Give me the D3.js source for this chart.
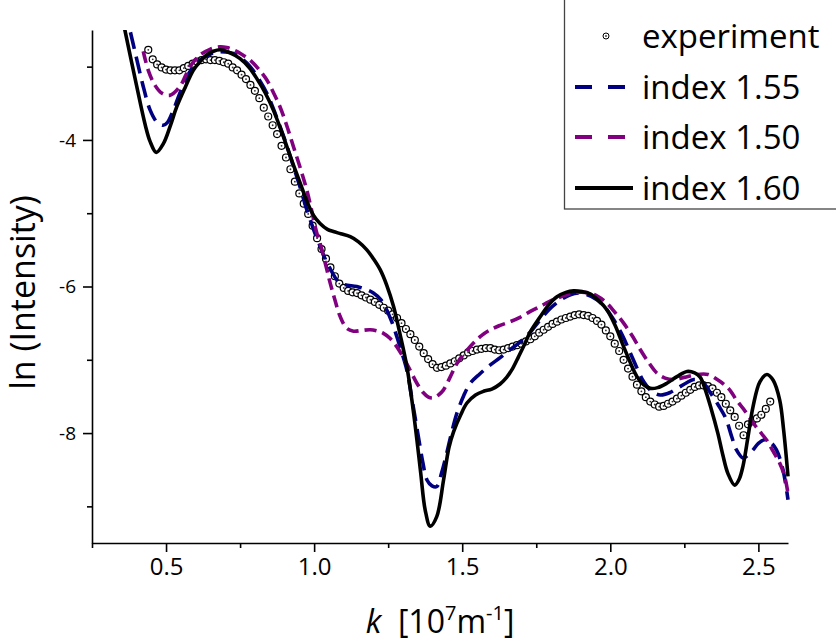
<!DOCTYPE html>
<html>
<head>
<meta charset="utf-8">
<script src="https://cdn.jsdelivr.net/npm/d3@7"></script>
<style>
  body { margin: 0; background: #fff; }
  svg { display: block; font-family: "Open Sans", sans-serif; }
</style>
</head>
<body>
<div id="chart"></div>
<script>
// k [10^7 m^-1], ln(Intensity)
const experiment = [
  [0.440, -2.77], [0.455, -2.90], [0.470, -2.97], [0.485, -3.01], [0.500, -3.04],
  [0.515, -3.05], [0.530, -3.05], [0.545, -3.05], [0.560, -3.02], [0.575, -2.99],
  [0.590, -2.96], [0.605, -2.93], [0.620, -2.91], [0.635, -2.90], [0.650, -2.91],
  [0.665, -2.91], [0.680, -2.92], [0.695, -2.94], [0.710, -2.96], [0.725, -3.01],
  [0.740, -3.05], [0.755, -3.11], [0.770, -3.17], [0.785, -3.25], [0.800, -3.33],
  [0.815, -3.43], [0.830, -3.56], [0.845, -3.68], [0.860, -3.80], [0.875, -3.92],
  [0.890, -4.08], [0.905, -4.24], [0.920, -4.40], [0.935, -4.57], [0.950, -4.73],
  [0.965, -4.87], [0.980, -5.01], [0.995, -5.17], [1.010, -5.34], [1.025, -5.49],
  [1.040, -5.62], [1.055, -5.74], [1.070, -5.86], [1.085, -5.96], [1.100, -6.02],
  [1.115, -6.06], [1.130, -6.08], [1.145, -6.09], [1.160, -6.12], [1.175, -6.15],
  [1.190, -6.18], [1.205, -6.21], [1.220, -6.25], [1.235, -6.29], [1.250, -6.33],
  [1.265, -6.38], [1.280, -6.43], [1.295, -6.50], [1.310, -6.58], [1.325, -6.65],
  [1.340, -6.73], [1.355, -6.82], [1.370, -6.91], [1.385, -6.99], [1.400, -7.06],
  [1.415, -7.11], [1.430, -7.10], [1.445, -7.08], [1.460, -7.05], [1.475, -7.02],
  [1.490, -6.98], [1.505, -6.94], [1.520, -6.90], [1.535, -6.88], [1.550, -6.86],
  [1.565, -6.85], [1.580, -6.84], [1.595, -6.84], [1.610, -6.86], [1.625, -6.87],
  [1.640, -6.86], [1.655, -6.84], [1.670, -6.82], [1.685, -6.80], [1.700, -6.78],
  [1.715, -6.75], [1.730, -6.72], [1.745, -6.68], [1.760, -6.63], [1.775, -6.59],
  [1.790, -6.55], [1.805, -6.51], [1.820, -6.48], [1.835, -6.45], [1.850, -6.43],
  [1.865, -6.41], [1.880, -6.39], [1.895, -6.38], [1.910, -6.39], [1.925, -6.40],
  [1.940, -6.43], [1.955, -6.47], [1.970, -6.52], [1.985, -6.60], [2.000, -6.68],
  [2.015, -6.78], [2.030, -6.88], [2.045, -7.00], [2.060, -7.12], [2.075, -7.23],
  [2.090, -7.34], [2.105, -7.43], [2.120, -7.51], [2.135, -7.57], [2.150, -7.61],
  [2.165, -7.64], [2.180, -7.63], [2.195, -7.60], [2.210, -7.57], [2.225, -7.53],
  [2.240, -7.49], [2.255, -7.45], [2.270, -7.41], [2.285, -7.37], [2.300, -7.35],
  [2.315, -7.35], [2.330, -7.36], [2.345, -7.39], [2.360, -7.45], [2.375, -7.51],
  [2.390, -7.60], [2.405, -7.69], [2.420, -7.78], [2.435, -7.90], [2.450, -8.03],
  [2.465, -7.88], [2.480, -7.84], [2.495, -7.80], [2.510, -7.75], [2.525, -7.67],
  [2.540, -7.57]
];

const index155 = [
  [0.360, -2.20], [0.378, -2.50], [0.400, -2.88], [0.423, -3.27], [0.446, -3.59],
  [0.470, -3.76], [0.490, -3.80], [0.505, -3.76], [0.525, -3.59], [0.545, -3.38],
  [0.570, -3.14], [0.595, -2.99], [0.615, -2.91], [0.645, -2.84], [0.671, -2.80],
  [0.700, -2.80], [0.727, -2.82], [0.755, -2.89], [0.784, -3.00], [0.812, -3.16],
  [0.840, -3.36], [0.862, -3.57], [0.885, -3.82], [0.908, -4.08], [0.930, -4.36],
  [0.953, -4.65], [0.975, -4.95], [0.998, -5.22], [1.020, -5.45], [1.040, -5.65],
  [1.060, -5.80], [1.077, -5.91], [1.100, -5.97], [1.144, -6.00], [1.175, -6.04],
  [1.200, -6.09], [1.225, -6.18], [1.245, -6.32], [1.262, -6.48], [1.279, -6.68],
  [1.296, -6.90], [1.313, -7.14], [1.333, -7.60], [1.352, -8.05], [1.367, -8.40],
  [1.381, -8.64], [1.398, -8.72], [1.414, -8.73], [1.430, -8.55], [1.448, -8.27],
  [1.465, -7.98], [1.482, -7.73], [1.505, -7.49], [1.527, -7.32], [1.560, -7.19],
  [1.595, -7.07], [1.628, -6.97], [1.662, -6.86], [1.695, -6.76], [1.730, -6.62],
  [1.764, -6.45], [1.792, -6.32], [1.820, -6.22], [1.850, -6.14], [1.887, -6.09],
  [1.920, -6.11], [1.955, -6.18], [1.985, -6.30], [2.011, -6.45], [2.040, -6.66],
  [2.068, -6.91], [2.092, -7.13], [2.113, -7.30], [2.140, -7.43], [2.169, -7.48],
  [2.200, -7.45], [2.226, -7.39], [2.255, -7.32], [2.282, -7.27], [2.310, -7.30],
  [2.338, -7.45], [2.365, -7.62], [2.390, -7.80], [2.410, -8.05], [2.426, -8.23],
  [2.448, -8.34], [2.465, -8.30], [2.482, -8.23], [2.500, -8.14], [2.522, -8.09],
  [2.542, -8.13], [2.561, -8.23], [2.583, -8.50], [2.600, -8.91]
];

const index150 = [
  [0.423, -2.79], [0.440, -3.05], [0.462, -3.25], [0.485, -3.36], [0.514, -3.39],
  [0.547, -3.27], [0.565, -3.13], [0.581, -3.00], [0.600, -2.90], [0.615, -2.84],
  [0.650, -2.76], [0.682, -2.73], [0.705, -2.74], [0.727, -2.77], [0.755, -2.83],
  [0.784, -2.91], [0.812, -3.03], [0.840, -3.18], [0.862, -3.35], [0.885, -3.55],
  [0.908, -3.81], [0.930, -4.09], [0.953, -4.38], [0.975, -4.68], [0.992, -4.97],
  [1.009, -5.27], [1.020, -5.41], [1.040, -5.72], [1.054, -5.95], [1.070, -6.18],
  [1.088, -6.41], [1.110, -6.57], [1.133, -6.61], [1.160, -6.60], [1.189, -6.59],
  [1.215, -6.61], [1.234, -6.64], [1.257, -6.71], [1.279, -6.82], [1.300, -6.96],
  [1.324, -7.14], [1.347, -7.32], [1.369, -7.45], [1.386, -7.51], [1.403, -7.52],
  [1.420, -7.48], [1.437, -7.41], [1.460, -7.23], [1.482, -7.05], [1.510, -6.90],
  [1.538, -6.77], [1.565, -6.67], [1.595, -6.59], [1.628, -6.53], [1.662, -6.48],
  [1.695, -6.42], [1.730, -6.34], [1.764, -6.27], [1.792, -6.21], [1.820, -6.16],
  [1.855, -6.11], [1.887, -6.08], [1.932, -6.09], [1.960, -6.14], [1.989, -6.23],
  [2.015, -6.35], [2.045, -6.50], [2.075, -6.68], [2.101, -6.86], [2.130, -7.04],
  [2.157, -7.18], [2.185, -7.25], [2.214, -7.27], [2.250, -7.24], [2.293, -7.20],
  [2.330, -7.20], [2.361, -7.27], [2.385, -7.34], [2.405, -7.42], [2.426, -7.55],
  [2.455, -7.70], [2.482, -7.86], [2.505, -7.98], [2.527, -8.09], [2.550, -8.25],
  [2.572, -8.41], [2.588, -8.58], [2.600, -8.82]
];

const index160 = [
  [0.350, -2.30], [0.361, -2.50], [0.400, -3.25], [0.430, -3.80], [0.446, -4.02],
  [0.467, -4.17], [0.491, -4.05], [0.515, -3.80], [0.536, -3.55], [0.565, -3.28],
  [0.592, -3.05], [0.615, -2.93], [0.637, -2.84], [0.660, -2.79], [0.682, -2.77],
  [0.710, -2.80], [0.750, -2.89], [0.780, -3.01], [0.806, -3.16], [0.835, -3.36],
  [0.862, -3.59], [0.885, -3.83], [0.908, -4.09], [0.930, -4.34], [0.953, -4.59],
  [0.975, -4.83], [0.998, -5.03], [1.020, -5.14], [1.045, -5.22], [1.065, -5.25],
  [1.090, -5.28], [1.122, -5.32], [1.150, -5.39], [1.178, -5.50], [1.200, -5.62],
  [1.223, -5.77], [1.245, -5.98], [1.268, -6.27], [1.290, -6.65], [1.313, -7.09],
  [1.330, -7.55], [1.347, -8.09], [1.360, -8.55], [1.375, -9.05], [1.392, -9.27],
  [1.414, -9.14], [1.437, -8.64], [1.455, -8.20], [1.471, -7.98], [1.495, -7.75],
  [1.516, -7.59], [1.545, -7.48], [1.572, -7.43], [1.600, -7.40], [1.628, -7.33],
  [1.650, -7.24], [1.670, -7.12], [1.690, -6.96], [1.707, -6.82], [1.730, -6.62],
  [1.764, -6.41], [1.790, -6.26], [1.820, -6.14], [1.850, -6.08], [1.876, -6.06],
  [1.905, -6.07], [1.932, -6.10], [1.960, -6.19], [1.989, -6.32], [2.015, -6.52],
  [2.045, -6.82], [2.070, -7.06], [2.090, -7.23], [2.112, -7.34], [2.135, -7.39],
  [2.160, -7.38], [2.191, -7.32], [2.225, -7.23], [2.259, -7.16], [2.285, -7.18],
  [2.304, -7.24], [2.320, -7.40], [2.340, -7.66], [2.363, -8.00], [2.380, -8.30],
  [2.397, -8.55], [2.420, -8.71], [2.435, -8.63], [2.448, -8.45], [2.465, -8.05],
  [2.482, -7.64], [2.505, -7.30], [2.529, -7.20], [2.550, -7.28], [2.572, -7.55],
  [2.585, -7.95], [2.600, -8.59]
];

const xMajorTicks = [0.5, 1.0, 1.5, 2.0, 2.5];
const xMinorTicks = [0.25, 0.75, 1.25, 1.75, 2.25];
const yMajorTicks = [-4, -6, -8];
const yMinorTicks = [-3, -5, -7, -9];
const legendLabels = ["experiment", "index 1.55", "index 1.50", "index 1.60"];

const width = 836;
const height = 642;
const margin = { left: 92, right: 788, top: 30, bottom: 543 };

const x = d3.scaleLinear().domain([0.25, 2.6]).range([margin.left, margin.right]);
const y = d3.scaleLinear().domain([-9.5, -2.5]).range([margin.bottom, margin.top]);

const svg = d3.select("#chart")
  .append("svg")
  .attr("width", width)
  .attr("height", height);

svg.append("defs")
  .append("clipPath")
  .attr("id", "plot-clip")
  .append("rect")
  .attr("x", margin.left)
  .attr("y", margin.top)
  .attr("width", margin.right - margin.left + 2)
  .attr("height", margin.bottom - margin.top);

// axes
const xAxis = svg.append("g")
  .attr("transform", `translate(0,${margin.bottom})`)
  .call(d3.axisBottom(x).tickValues(xMajorTicks).tickSize(9).tickSizeOuter(0)
    .tickPadding(6).tickFormat(d3.format(".1f")));
svg.append("g")
  .attr("transform", `translate(0,${margin.bottom})`)
  .call(d3.axisBottom(x).tickValues(xMinorTicks).tickSize(5).tickSizeOuter(0).tickFormat(""))
  .call(g => g.select(".domain").remove());

const yAxis = svg.append("g")
  .attr("transform", `translate(${margin.left},0)`)
  .call(d3.axisLeft(y).tickValues(yMajorTicks).tickSize(9).tickSizeOuter(0)
    .tickPadding(7).tickFormat(d => String(d)));
svg.append("g")
  .attr("transform", `translate(${margin.left},0)`)
  .call(d3.axisLeft(y).tickValues(yMinorTicks).tickSize(5).tickSizeOuter(0).tickFormat(""))
  .call(g => g.select(".domain").remove());

svg.selectAll(".domain, .tick line")
  .attr("stroke", "#000")
  .attr("stroke-width", 1.6);
xAxis.selectAll(".tick text")
  .attr("fill", "#000")
  .style("font-family", "'Open Sans', sans-serif")
  .style("font-size", "24px");
yAxis.selectAll(".tick text")
  .attr("fill", "#000")
  .style("font-family", "'Open Sans', sans-serif")
  .style("font-size", "19px");

// axis titles
svg.append("text")
  .attr("transform", `translate(35,${(margin.top + margin.bottom) / 2 + 6}) rotate(-90)`)
  .attr("text-anchor", "middle")
  .style("font-size", "34px")
  .text("ln (Intensity)");

const xTitle = svg.append("text")
  .attr("x", (margin.left + margin.right) / 2)
  .attr("y", 633)
  .attr("text-anchor", "middle")
  .style("font-size", "32px")
  .style("white-space", "pre");
xTitle.append("tspan").style("font-style", "italic").text("k");
xTitle.append("tspan").text("  [10");
xTitle.append("tspan").attr("dy", -13).style("font-size", "20px").text("7");
xTitle.append("tspan").attr("dy", 13).text("m");
xTitle.append("tspan").attr("dy", -13).style("font-size", "20px").text("-1");
xTitle.append("tspan").attr("dy", 13).text("]");

// data
const line = d3.line()
  .x(d => x(d[0]))
  .y(d => y(d[1]))
  .curve(d3.curveCatmullRom.alpha(0.5));

const plot = svg.append("g").attr("clip-path", "url(#plot-clip)");

const dots = plot.selectAll("g.exp")
  .data(experiment)
  .enter()
  .append("g")
  .attr("class", "exp")
  .attr("transform", d => `translate(${x(d[0])},${y(d[1])})`);
dots.append("circle")
  .attr("r", 3.5)
  .attr("fill", "#fff")
  .attr("stroke", "#000")
  .attr("stroke-width", 1.2);
dots.append("circle")
  .attr("r", 0.9)
  .attr("fill", "#333");

const series = [
  { data: index155, color: "#000080", dash: "17,8" },
  { data: index150, color: "#800080", dash: "12,6" },
  { data: index160, color: "#000", dash: null }
];

series.forEach(s => {
  plot.append("path")
    .attr("d", line(s.data))
    .attr("fill", "none")
    .attr("stroke", s.color)
    .attr("stroke-width", 3.6)
    .attr("stroke-dasharray", s.dash);
});

// legend
const legend = svg.append("g");
legend.append("rect")
  .attr("x", 564.5)
  .attr("y", -2)
  .attr("width", 290)
  .attr("height", 211)
  .attr("fill", "#fff")
  .attr("stroke", "#444")
  .attr("stroke-width", 1.3);

const rowY = [36, 87, 137, 188];
legendLabels.forEach((label, i) => {
  const cy = rowY[i];
  if (i === 0) {
    legend.append("circle")
      .attr("cx", 606)
      .attr("cy", cy)
      .attr("r", 3)
      .attr("fill", "#fff")
      .attr("stroke", "#000")
      .attr("stroke-width", 1);
    legend.append("circle")
      .attr("cx", 606)
      .attr("cy", cy)
      .attr("r", 0.9)
      .attr("fill", "#333");
  } else {
    const s = series[i - 1];
    legend.append("line")
      .attr("x1", 575)
      .attr("x2", s.dash ? 628 : 633)
      .attr("y1", cy)
      .attr("y2", cy)
      .attr("stroke", s.color)
      .attr("stroke-width", 4)
      .attr("stroke-dasharray", s.dash ? "17,16" : null);
  }
  legend.append("text")
    .attr("x", 642)
    .attr("y", cy + 12)
    .style("font-size", "33px")
    .text(label);
});
</script>
</body>
</html>
